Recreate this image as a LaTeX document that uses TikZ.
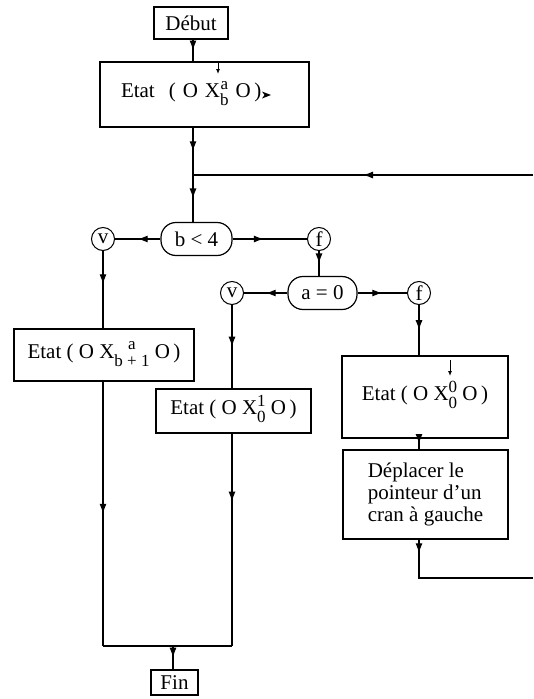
\documentclass[tikz,border=0pt]{standalone}
\usepackage{fontspec}
\setmainfont{Liberation Serif}
\usetikzlibrary{arrows.meta,decorations.markings}

% stacked upper and lower index of the tape symbol
\newcommand{\pile}[2]{\raisebox{-8pt}{\fontsize{17}{16}\selectfont\begin{tabular}[b]{@{}c@{}}#1\\#2\end{tabular}}}

\begin{document}
\begin{tikzpicture}[x=1pt, y=-1pt, line width=1.2pt,
		font=\fontsize{21}{21.7}\selectfont,
		box/.style={draw, inner sep=0pt},
		test/.style={draw, rounded corners=15pt, inner sep=0pt, minimum height=33pt},
		rep/.style={draw, circle, inner sep=0pt, minimum size=23pt, line width=1pt},
		flow/.style={postaction={decorate}, decoration={markings,
			mark=at position #1 with {\arrow{Latex[length=10pt,width=7pt]}}}},
		flow/.default=0.5]
		\useasboundingbox (0,0) rectangle (533,699);
		
		% Start and first state
		\node[box, minimum width=74pt, minimum height=32pt] (debut) at (191,23) {Début};
		\node[box, minimum width=209pt, minimum height=65pt, text width=167pt, align=left] (etat1) at (204.5,94.5) {Etat\ \ ( O X\pile{a}{b} O\,)};
		\draw[-{Latex[length=5pt,width=4pt]}, line width=0.9pt] (218,63) -- (218,74);
		\fill (262,91.5) -- (271,95) -- (262,98.5) -- (264.5,95) -- cycle;
		
		% Tests
		\coordinate (jn) at (193,175);
		\coordinate (retour) at (533,175);
		\node[test, minimum width=71pt] (test1) at (196.5,239) {b < 4};
		\node[rep] (v1) at (103,239) {v};
		\node[rep] (f1) at (319,239) {f};
		\node[test, minimum width=69pt] (test2) at (322.5,293) {a = 0};
		\node[rep] (v2) at (232,293) {v};
		\node[rep] (f2) at (419,293) {f};
		
		% States
		\node[box, minimum width=180pt, minimum height=52pt] (etat2) at (104,355) {Etat ( O X\pile{a}{b + 1} O\,)};
		\node[box, minimum width=155pt, minimum height=44pt] (etat3) at (233.5,411) {Etat ( O X\pile{1}{0} O\,)};
		\node[box, minimum width=166pt, minimum height=82pt] (etat4) at (425,397) {Etat ( O X\pile{0}{0} O\,)};
		\draw[-{Latex[length=5pt,width=4pt]}, line width=0.9pt] (450,360) -- (450,376);
		\node[box, minimum width=165pt, minimum height=89pt, align=left] (depl) at (425.5,494.5) {Déplacer le\\pointeur d'un\\cran à gauche};
		\coordinate (bas) at (533,578);
		
		% End
		\coordinate (jonc) at (173,646);
		\node[box, minimum width=47pt, minimum height=25pt] (fin) at (174.5,682.5) {Fin};
		
		% Connections
		\draw[flow] (jn |- debut.south) -- (jn |- etat1.north);
		\draw[flow] (jn |- etat1.south) -- (jn);
		\draw[flow] (jn) -- (jn |- test1.north);
		\draw[flow] (retour) -- (jn);
		\draw[flow] (test1.west) -- (v1.east);
		\draw[flow=0.42] (test1.east) -- (f1.west);
		\draw[flow] (f1.south) -- (f1.south |- test2.north);
		\draw[flow] (test2.west) -- (v2.east);
		\draw[flow] (test2.east) -- (f2.west);
		\draw[flow=0.43] (v1.south) -- (v1.south |- etat2.north);
		\draw[flow] (v2.south) -- (v2.south |- etat3.north);
		\draw[flow] (f2.south) -- (f2.south |- etat4.north);
		\draw[flow] (f2.south |- etat4.south) -- (f2.south |- depl.north);
		\draw[flow=0.09] (f2.south |- depl.south) |- (bas);
		\draw[flow] (v1.south |- etat2.south) -- (v1.south |- jonc);
		\draw[flow=0.32] (v2.south |- etat3.south) -- (v2.south |- jonc);
		\draw (v1.south |- jonc) -- (v2.south |- jonc);
		\draw[flow] (jonc) -- (jonc |- fin.north);
	\end{tikzpicture}
\end{document}
